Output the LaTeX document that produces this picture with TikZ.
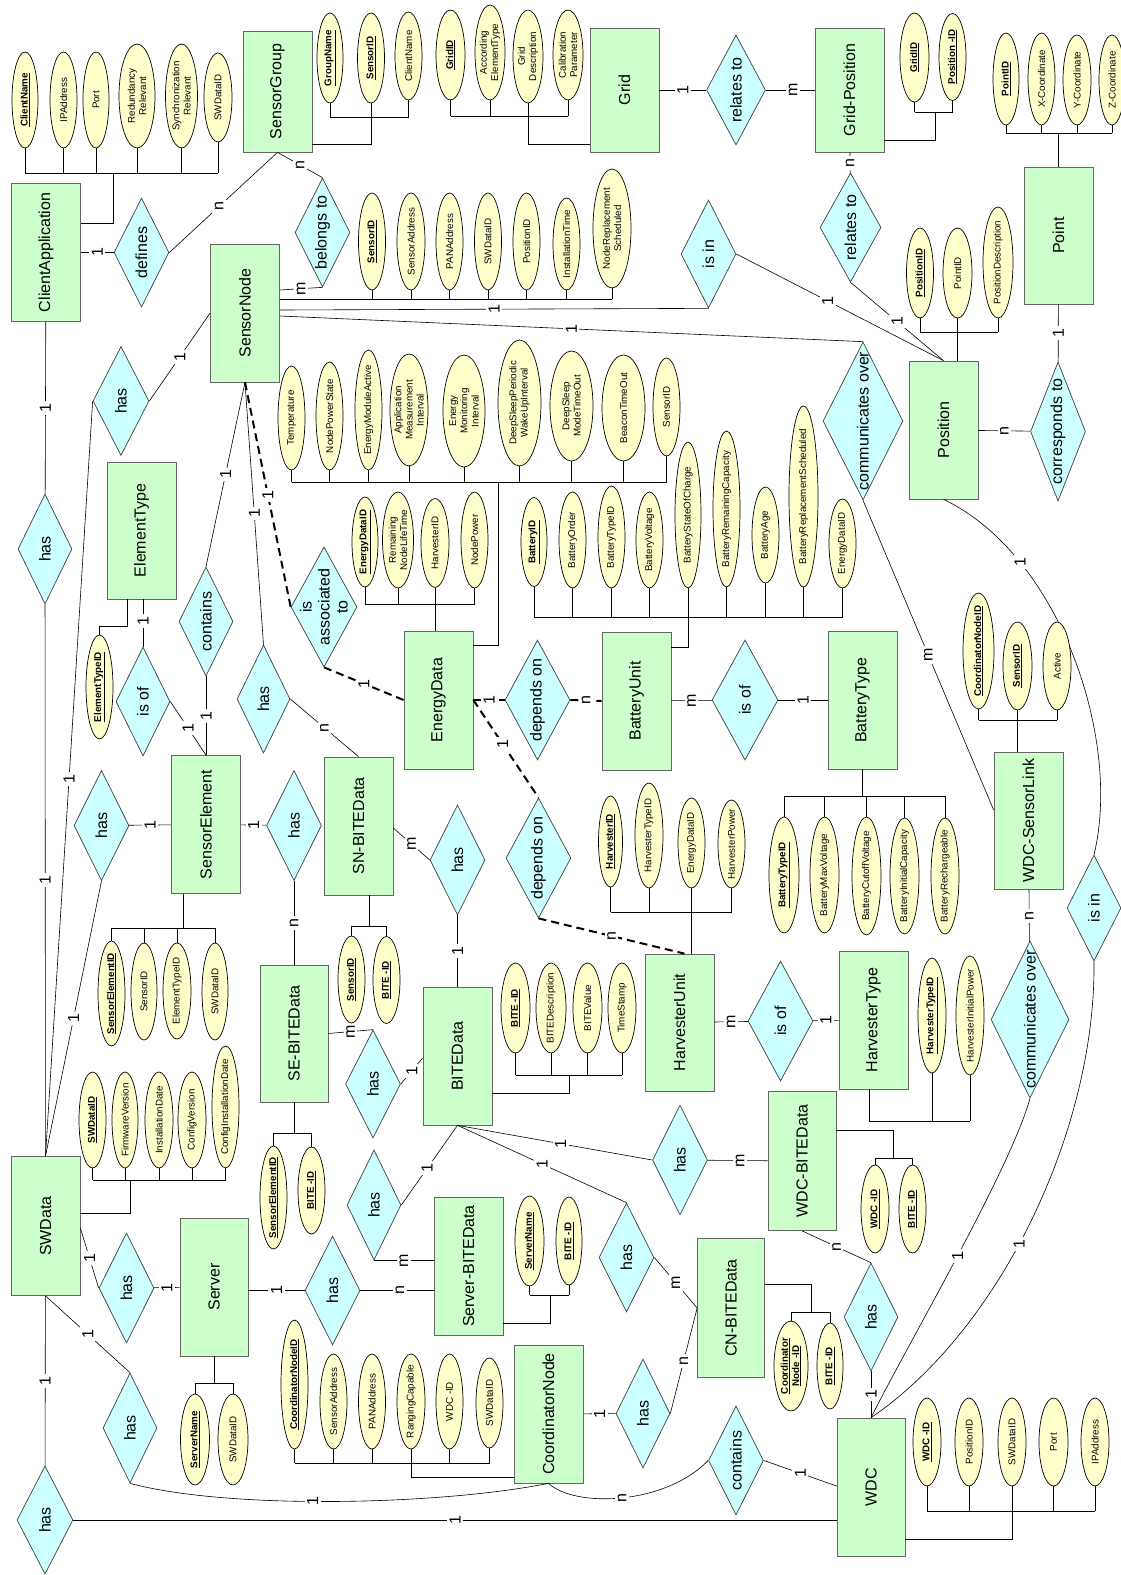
\documentclass[tikz,border=0pt]{standalone}
\usepackage{fontspec}
\setmainfont{Liberation Sans}
\usetikzlibrary{shapes.geometric}
\definecolor{entg}{HTML}{CCFFCC}
\definecolor{relc}{HTML}{CCFFFF}
\definecolor{attc}{HTML}{FFFFCC}
\newcommand\kk[1]{\underline{\textbf{#1}}}
\begin{document}
\begin{tikzpicture}[x=1pt,y=-1pt,
  ent/.style={draw=black!60, line width=0.7pt, fill=entg, rectangle, minimum width=69pt, minimum height=138pt, inner sep=0pt,
     label={[rotate=90,font=\fontsize{16}{19}\selectfont]center:#1}},
  rel/.style={draw=black!75, line width=0.7pt, fill=relc, diamond, minimum width=55pt, minimum height=109pt, inner sep=0pt,
     label={[rotate=90,font=\fontsize{16}{18}\selectfont,align=center]center:#1}},
  att/.style={draw=black, line width=0.7pt, fill=attc, ellipse, minimum width=27pt, minimum height=90pt, inner sep=0pt,
     label={[rotate=90,font=\fontsize{9.8}{11.2}\selectfont,align=center]center:#1}},
  card/.style={fill=white, inner sep=2.5pt, rotate=90, font=\fontsize{16}{16}\selectfont},
  ln/.style={draw=black, line width=0.6pt},
  bus/.style={draw=black, line width=0.7pt},
  dsh/.style={draw=black, line width=2pt, dash pattern=on 8pt off 5pt},
]
\fill[white] (0,0) rectangle (1120,1575);
\useasboundingbox (0,0) rectangle (1120,1575);

% ---------------- entities
\node[ent=ClientApplication] (ca) at (46,252.5) {};
\node[ent=SensorGroup, minimum height=121pt] (sg) at (277.5,91.5) {};
\node[ent=SensorNode] (sn) at (245,313) {};
\node[ent=Grid, minimum height=124pt] (grid) at (624.5,90) {};
\node[ent=Grid-Position, minimum height=124pt] (gp) at (849.5,90) {};
\node[ent=Point, minimum height=137pt] (point) at (1058.5,235.5) {};
\node[ent=Position] (pos) at (943.5,430) {};
\node[ent=ElementType, minimum height=137pt] (et) at (141.5,530.5) {};
\node[ent=EnergyData] (ed) at (438.5,700) {};
\node[ent=BatteryUnit] (bu) at (636.5,701) {};
\node[ent=BatteryType] (bt) at (862.5,700) {};
\node[ent=WDC-SensorLink, minimum height=137pt] (wsl) at (1028.5,820.5) {};
\node[ent=SensorElement] (se) at (206,824.5) {};
\node[ent=SN-BITEData] (snb) at (358.5,826) {};
\node[ent=SE-BITEData, minimum width=68pt, minimum height=137pt] (seb) at (294,1033.5) {};
\node[ent=BITEData] (bite) at (457.5,1056) {};
\node[ent=HarvesterUnit, minimum height=137pt] (hu) at (679.5,1022.5) {};
\node[ent=HarvesterType] (ht) at (873.5,1020) {};
\node[ent=WDC-BITEData, minimum width=68pt, minimum height=139pt] (wdcb) at (802,1161) {};
\node[ent=SWData, minimum height=139pt] (sw) at (45.5,1226) {};
\node[ent=Server, minimum width=68pt] (srv) at (214,1287) {};
\node[ent=Server-BITEData] (sbd) at (468.5,1266) {};
\node[ent=CN-BITEData, minimum width=67pt, minimum height=139pt] (cnb) at (731,1308) {};
\node[ent=CoordinatorNode] (cn) at (548.5,1414) {};
\node[ent=WDC, minimum width=68pt] (wdc) at (871,1487) {};

% ---------------- relationships
\node[rel=defines] (rdef) at (141.5,252.5) {};
\node[rel=belongs to] (rbel) at (322.5,232.5) {};
\node[rel=relates to, minimum width=59pt, minimum height=110pt] (rrel1) at (736,90) {};
\node[rel=relates to, minimum width=61pt] (rrel2) at (850.5,227.5) {};
\node[rel=is in, minimum height=108pt] (risin1) at (708.5,254) {};
\node[rel=corresponds to, minimum height=139pt] (rcor) at (1058,431.5) {};
\node[rel=communicates over, minimum width=80pt, minimum height=158pt] (rcom1) at (863,421) {};
\node[rel=has, minimum width=54pt, minimum height=110pt] (rh1) at (45,549) {};
\node[rel=has, minimum width=56pt] (rh2) at (121,401) {};
\node[rel=is of, minimum width=54pt] (risof1) at (143,701.5) {};
\node[rel=contains, minimum width=54pt] (rcont1) at (206,621.5) {};
\node[rel=has, minimum width=53pt, minimum height=108pt] (rh3) at (263.5,699) {};
\node[rel={is\\associated\\to}, minimum width=66pt, minimum height=120pt] (rass) at (324,607) {};
\node[rel=depends on, minimum width=65pt, minimum height=120pt] (rdep1) at (537.5,700) {};
\node[rel=is of, minimum width=66pt, minimum height=120pt] (risof2) at (745,700) {};
\node[rel=has, minimum height=110pt] (rh4) at (101.5,825.5) {};
\node[rel=has, minimum height=110pt] (rh5) at (294,825.5) {};
\node[rel=has, minimum height=110pt] (rh6) at (457.5,860) {};
\node[rel=depends on, minimum width=65pt, minimum height=120pt] (rdep2) at (538.5,858) {};
\node[rel=is of, minimum width=65pt, minimum height=120pt] (risof3) at (780.5,1021) {};
\node[rel=is in, minimum width=54pt, minimum height=106pt] (risin2) at (1094,908) {};
\node[rel=communicates over, minimum width=78pt, minimum height=157pt] (rcom2) at (1030,1019.5) {};
\node[rel=has, minimum height=108pt] (rh7) at (373,1084) {};
\node[rel=has, minimum height=110pt] (rh8) at (680,1160) {};
\node[rel=has, minimum width=54pt, minimum height=110pt] (rh9) at (374,1205) {};
\node[rel=has] (rh10) at (626.5,1257.5) {};
\node[rel=has] (rh11) at (332.5,1290.5) {};
\node[rel=has, minimum height=110pt] (rh12) at (126.5,1288) {};
\node[rel=has, minimum width=54pt] (rh13) at (643,1413.5) {};
\node[rel=has, minimum width=54pt, minimum height=108pt] (rh14) at (871,1317) {};
\node[rel=has, minimum width=54pt, minimum height=110pt] (rh15) at (130,1428) {};
\node[rel=contains] (rcont2) at (736,1460.5) {};
\node[rel=has, minimum width=56pt, minimum height=108pt] (rh16) at (45,1520) {};

% ---------------- relationship connectors
\draw[ln] (ca) -- node[card]{1} (rdef);
\draw[ln] (rdef.east) -- node[card,pos=0.46]{n} (sg.south);
\draw[ln] (sg.south) -- node[card]{n} (rbel.north);
\draw[ln] (rbel.south) -- node[card]{m} (sn.east |- 0,290);
\draw[ln] (sn.east |- 0,310) -- node[card]{1} (risin1.south);
\draw[ln] (risin1.east) -- node[card,pos=0.44]{1} (pos.north);
\draw[ln] (sn.east |- 0,316) -- node[card]{1} (rcom1.north);
\draw[ln] (rcom1.south) -- node[card]{m} (wsl.west |- 0,810);
\draw[ln] (grid) -- node[card]{1} (rrel1);
\draw[ln] (rrel1) -- node[card,pos=0.56]{m} (gp);
\draw[ln] (gp) -- node[card]{n} (rrel2);
\draw[ln] (rrel2.south) -- node[card]{1} (pos.north);
\draw[ln] (pos) -- node[card]{n} (rcor);
\draw[ln] (rcor) -- node[card]{1} (point);
\draw[ln] (ca) -- node[card]{1} (rh1);
\draw[ln] (rh1) -- node[card]{1} (sw);
\draw[ln] (sn.west) -- node[card]{1} (rh2.east);
\draw[ln] (rh2.west) -- node[card]{1} (sw.north);
\draw[ln] (risof1.north |- et.south) -- node[card,pos=0.45]{1} (risof1.north);
\draw[ln] (risof1.east) -- node[card]{1} (se.north);
\draw[ln] (sn.south) -- node[card]{1} (rcont1.north);
\draw[ln] (rcont1) -- node[card]{1} (se);
\draw[ln] (sn.south) -- node[card]{1} (rh3.north);
\draw[ln] (rh3.east) -- node[card]{n} (snb.north);
\draw[dsh] (sn.south) -- node[card]{1} (rass.west);
\draw[dsh] (rass.south) -- node[card]{1} (ed.west);
\draw[dsh] (ed.east) -- node[card]{1} (rdep1.west);
\draw[dsh] (rdep1.east) -- node[card]{n} (bu.west);
\draw[ln] (bu) -- node[card]{m} (risof2);
\draw[ln] (risof2) -- node[card]{1} (bt);
\draw[dsh] (ed.east) -- node[card,pos=0.45]{1} (rdep2.north);
\draw[dsh] (rdep2.south) -- node[card]{n} ([xshift=5pt]hu.north);
\draw[ln] (hu) -- node[card]{m} (risof3);
\draw[ln] (risof3) -- node[card]{1} (ht);
\draw[ln] (pos.south) .. controls (1060,555) and (1122,740) .. node[card,pos=0.25]{1} (risin2.north);
\draw[ln] (risin2.south) .. controls (1096,1130) and (1000,1330) .. node[card,pos=0.55]{1} (wdc.north);
\draw[ln] (rcom2.south) .. controls (1010,1170) and (910,1340) .. node[card]{1} (wdc.north);
\draw[ln] (wsl) -- node[card]{n} (rcom2);
\draw[ln] (se) -- node[card]{1} (rh4);
\draw[ln] (rh4.south) -- node[card]{1} (sw.north);
\draw[ln] (se) -- node[card]{1} (rh5);
\draw[ln] (rh5) -- node[card]{n} (seb);
\draw[ln] (snb.east |- 0,828) -- node[card]{m} (rh6.west);
\draw[ln] (rh6) -- node[card]{1} (bite);
\draw[ln] (seb.east) -- node[card]{m} (rh7.north);
\draw[ln] (rh7.east) -- node[card]{1} (bite.west |- 0,1058);
\draw[ln] (bite.south) -- node[card,pos=0.53]{1} (rh8.west);
\draw[ln] (bite.south) -- node[card]{1} (rh10.north);
\draw[ln] (bite.south) -- node[card,pos=0.54]{1} (rh9.east);
\draw[ln] (rh8) -- node[card,pos=0.54]{m} (wdcb);
\draw[ln] (wdcb.south) -- node[card]{n} (rh14.north);
\draw[ln] (rh14) -- node[card]{1} (wdc);
\draw[ln] (rh10.east) -- node[card]{m} (cnb.west);
\draw[ln] (rh9.south) -- node[card]{m} (sbd.west |- rh9.south);
\draw[ln] (srv.east |- rh11) -- node[card]{1} (rh11.west);
\draw[ln] (rh11.east) -- node[card,pos=0.54]{n} (sbd.west |- rh11);
\draw[ln] (sw.east |- 0,1228) -- node[card]{1} (rh12.west);
\draw[ln] (rh12) -- node[card]{1} (srv);
\draw[ln] (sw.south) -- node[card]{1} (rh15.north);
\draw[ln] (rh15.south) .. controls (230,1510) and (440,1505) .. node[card,pos=0.45]{1} (cn.south);
\draw[ln] (sw) -- node[card]{1} (rh16);
\draw[ln] (rh16.east) -- node[card]{1} (wdc.west |- rh16);
\draw[ln] (cn) -- node[card]{1} (rh13);
\draw[ln] (rh13.east) -- node[card]{n} (cnb.west);
\draw[ln] (rcont2.east) -- node[card]{1} (wdc.west |- 0,1486);
\draw[ln] (cn.south) .. controls (575,1508) and (665,1505) .. node[card]{n} (rcont2.west);

% ---------------- attributes: ClientApplication
\node[att=\kk{ClientName}, minimum width=26pt, minimum height=96pt] (aca1) at (25,100) {};
\node[att=IPAddress, minimum height=96pt] (aca2) at (63.5,100) {};
\node[att=Port, minimum width=26pt, minimum height=96pt] (aca3) at (96,100) {};
\node[att={Redundancy\\Relevant}, minimum width=36pt, minimum height=104pt] (aca4) at (137,96) {};
\node[att={Synchronization\\Relevant}, minimum width=32pt, minimum height=104pt] (aca5) at (181.5,96) {};
\node[att=SWDataID, minimum width=28pt, minimum height=89pt] (aca6) at (218,97.5) {};
\foreach \n in {aca1,aca2,aca3,aca4,aca5,aca6} \draw[bus] (\n.south) -- (\n.south |- 0,173);
\draw[bus] (aca1.south |- 0,173) -- (aca6.south |- 0,173);
\draw[bus] (113,173) -- (113,223) -- (ca.east |- 0,223);

% SensorGroup
\node[att=\kk{GroupName}, minimum width=26pt] (asg1) at (330,58) {};
\node[att=\kk{SensorID}] (asg2) at (371,58) {};
\node[att=ClientName, minimum height=88pt] (asg3) at (408.5,56) {};
\foreach \n in {asg1,asg3} \draw[bus] (\n.south) -- (\n.south |- 0,117);
\draw[bus] (asg1.south |- 0,117) -- (asg3.south |- 0,117);
\draw[bus] (asg2.south) -- (asg2.south |- 0,144) -- (sg.east |- 0,144);

% Grid
\node[att=\kk{GridID}, minimum width=29pt] (agr1) at (450.5,55) {};
\node[att={According\\ElementType}, minimum width=30pt, minimum height=95pt] (agr2) at (490,52.5) {};
\node[att={Grid\\Description}, minimum width=30pt, minimum height=93pt] (agr3) at (528,56.5) {};
\node[att={Calibration\\Parameter}, minimum width=30pt] (agr4) at (568,55) {};
\foreach \n in {agr1,agr2,agr4} \draw[bus] (\n.south) -- (\n.south |- 0,116);
\draw[bus] (agr1.south |- 0,116) -- (agr4.south |- 0,116);
\draw[bus] (agr3.south) -- (agr3.south |- 0,144) -- (grid.west |- 0,144);

% Grid-Position
\node[att=\kk{GridID}, minimum width=29pt, minimum height=89pt] (agp1) at (914.5,57.5) {};
\node[att=\kk{Position -ID}, minimum height=87pt] (agp2) at (952.5,57) {};
\foreach \n in {agp1,agp2} \draw[bus] (\n.south) -- (\n.south |- 0,112);
\draw[bus] (agp1.south |- 0,112) -- (agp2.south |- 0,112);
\draw[bus] (935,112) -- (935,140) -- (gp.east |- 0,140);

% Point
\node[att=\kk{PointID}, minimum width=26pt, minimum height=92pt] (apt1) at (1006,79) {};
\node[att=X-Coordinate, minimum height=92pt] (apt2) at (1041.5,79) {};
\node[att=Y-Coordinate, minimum width=28pt] (apt3) at (1077,80) {};
\node[att=Z-Coordinate, minimum width=26pt] (apt4) at (1112,80) {};
\foreach \n in {apt1,apt2,apt3,apt4} \draw[bus] (\n.south) -- (\n.south |- 0,133);
\draw[bus] (apt1.south |- 0,133) -- (apt4.south |- 0,133);
\draw[bus] (point.north |- 0,133) -- (point.north);

% Position
\node[att=\kk{PositionID}] (apo1) at (920,273) {};
\node[att=PointID, minimum width=29pt] (apo2) at (957.5,273) {};
\node[att=PositionDescription, minimum width=30pt, minimum height=111pt] (apo3) at (998,262.5) {};
\foreach \n in {apo1,apo3} \draw[bus] (\n.south) -- (\n.south |- 0,332);
\draw[bus] (apo1.south |- 0,332) -- (apo3.south |- 0,332);
\draw[bus, line width=1.4pt] (apo2.south) -- (apo2.south |- pos.north);

% SensorNode
\node[att=\kk{SensorID}, minimum height=97pt] (asn1) at (372,241.5) {};
\node[att=SensorAddress, minimum width=28pt, minimum height=97pt] (asn2) at (411,241.5) {};
\node[att=PANAddress, minimum height=97pt] (asn3) at (449.5,241.5) {};
\node[att=SWDataID, minimum height=97pt] (asn4) at (488,241.5) {};
\node[att=PositionID, minimum height=97pt] (asn5) at (526.5,241.5) {};
\node[att=InstallationTime, minimum height=92pt] (asn6) at (566.5,244) {};
\node[att={NodeReplacement\\Scheduled}, minimum width=38pt, minimum height=119pt] (asn7) at (612,228.5) {};
\foreach \n in {asn1,asn2,asn3,asn4,asn5,asn6,asn7} \draw[bus] (\n.south) -- (\n.south |- 0,299);
\draw[bus] (sn.east |- 0,299) -- (asn7.south |- 0,299);

% EnergyData (row 1)
\node[att=Temperature, minimum height=104pt] (aed1) at (291.5,418) {};
\node[att=NodePowerState, minimum height=108pt] (aed2) at (329.5,416) {};
\node[att=EnergyModuleActive, minimum height=120pt] (aed3) at (368.5,410) {};
\node[att={Application\\Measurement\\Interval}, minimum width=38pt, minimum height=112pt] (aed4) at (409,410) {};
\node[att={Energy\\Monitoring\\Interval}, minimum width=42pt, minimum height=112pt] (aed5) at (464,411) {};
\node[att={DeepSleepPeriodic\\WakeUpInterval}, minimum width=43pt, minimum height=126pt] (aed6) at (519.5,403) {};
\node[att={DeepSleep\\ModeTimeOut}, minimum width=43pt, minimum height=110pt] (aed7) at (571.5,406) {};
\node[att=BeaconTimeOut, minimum width=43pt, minimum height=106pt] (aed8) at (623.5,408) {};
\node[att=SensorID, minimum height=98pt] (aed9) at (666.5,407) {};
\foreach \n in {aed1,aed2,aed3,aed4,aed5,aed6,aed7,aed8,aed9} \draw[bus] (\n.south) -- (\n.south |- 0,482);
\draw[bus] (aed1.south |- 0,482) -- (aed9.south |- 0,482);
\draw[bus] (498,482) -- (498,645) -- (ed.east |- 0,645);

% EnergyData (row 2)
\node[att=\kk{EnergyDataID}, minimum width=26pt] (aee1) at (365,542) {};
\node[att={Remaining\\NodeLifeTime}, minimum width=31pt, minimum height=96pt] (aee2) at (398,540) {};
\node[att=HarvesterID, minimum width=28pt, minimum height=89pt] (aee3) at (435,543) {};
\node[att=NodePower, minimum height=96pt] (aee4) at (474.5,540) {};
\foreach \n in {aee1,aee2,aee4} \draw[bus] (\n.south) -- (\n.south |- 0,604);
\draw[bus] (aee1.south |- 0,604) -- (aee4.south |- 0,604);
\draw[bus] (aee3.south) -- (aee3.south |- ed.north);

% BatteryUnit
\node[att=\kk{BatteryID}, minimum width=26pt, minimum height=89pt] (abu1) at (534,542) {};
\node[att=BatteryOrder, minimum height=96pt] (abu2) at (572.5,540) {};
\node[att=BatteryTypeID, minimum height=102pt] (abu3) at (611.5,537) {};
\node[att=BatteryVoltage, minimum height=96pt] (abu4) at (649.5,540) {};
\node[att=BatteryStateOfCharge, minimum width=26pt, minimum height=146pt] (abu5) at (688,515) {};
\node[att=BatteryRemainingCapacity, minimum height=156pt] (abu6) at (726.5,509) {};
\node[att=BatteryAge, minimum height=96pt] (abu7) at (765.5,535) {};
\node[att=BatteryReplacementScheduled, minimum width=29pt, minimum height=181pt] (abu8) at (803.5,496.5) {};
\node[att=EnergyDataID, minimum height=89pt] (abu9) at (842.5,543.5) {};
\foreach \n in {abu1,abu2,abu3,abu4,abu6,abu7,abu8,abu9} \draw[bus] (\n.south) -- (\n.south |- 0,617);
\draw[bus] (abu1.south |- 0,617) -- (abu9.south |- 0,617);
\draw[bus] (abu5.south) -- (abu5.south |- 0,647) -- (bu.east |- 0,647);

% BatteryType
\node[att=\kk{BatteryTypeID}, minimum width=30pt, minimum height=116pt] (abt1) at (784,875) {};
\node[att=BatteryMaxVoltage, minimum width=29pt, minimum height=116pt] (abt2) at (824.5,875) {};
\node[att=BatteryCutoffVoltage, minimum width=29pt, minimum height=118pt] (abt3) at (866.5,876) {};
\node[att=BatteryInitialCapacity, minimum width=29pt, minimum height=116pt] (abt4) at (904.5,876) {};
\node[att=BatteryRechargeable, minimum width=28pt, minimum height=116pt] (abt5) at (945,876) {};
\foreach \n in {abt1,abt2,abt3,abt4,abt5} \draw[bus] (\n.north) -- (\n.north |- 0,796);
\draw[bus] (abt1.north |- 0,796) -- (abt5.north |- 0,796);
\draw[bus] (bt.south) -- (bt.south |- 0,796);

% WDC-SensorLink
\node[att=\kk{CoordinatorNodeID}, minimum width=31pt, minimum height=116pt] (awl1) at (978.5,651) {};
\node[att=\kk{SensorID}, minimum width=29pt, minimum height=88pt] (awl2) at (1017.5,666) {};
\node[att=Active, minimum width=28pt, minimum height=88pt] (awl3) at (1057,666) {};
\foreach \n in {awl1,awl3} \draw[bus] (\n.south) -- (\n.south |- 0,720);
\draw[bus] (awl1.south |- 0,720) -- (awl3.south |- 0,720);
\draw[bus] (awl2.south) -- (awl2.south |- wsl.north);

% HarvesterUnit
\node[att=\kk{HarvesterID}, minimum width=24pt, minimum height=91pt] (ahu1) at (610.5,841.5) {};
\node[att=HarvesterTypeID, minimum width=28pt, minimum height=105pt] (ahu2) at (649,835.5) {};
\node[att=EnergyDataID] (ahu3) at (691.5,843) {};
\node[att=HarvesterPower, minimum height=88pt] (ahu4) at (731.5,844) {};
\foreach \n in {ahu1,ahu2,ahu4} \draw[bus] (\n.south) -- (\n.south |- 0,912);
\draw[bus] (ahu1.south |- 0,912) -- (ahu4.south |- 0,912);
\draw[bus, line width=1.2pt] (ahu3.south) -- (ahu3.south |- hu.north);

% HarvesterType
\node[att=\kk{HarvesterTypeID}, minimum width=28pt, minimum height=115pt] (aht1) at (932,1015.5) {};
\node[att=HarvesterInitialPower, minimum width=28pt, minimum height=119pt] (aht2) at (970,1015.5) {};
\foreach \n in {aht1,aht2} \draw[bus] (\n.south) -- (\n.south |- 0,1121);
\draw[bus] (869,1089) -- (869,1121) -- (aht2.south |- 0,1121);

% SensorElement
\node[att=\kk{SensorElementID}, minimum height=105pt] (ase1) at (111.5,993.5) {};
\node[att=SensorID, minimum width=26pt, minimum height=97pt] (ase2) at (144,991.5) {};
\node[att=ElementTypeID, minimum width=28pt, minimum height=96pt] (ase3) at (177,991) {};
\node[att=SWDataID, minimum width=26pt, minimum height=97pt] (ase4) at (215,991.5) {};
\foreach \n in {ase1,ase2,ase3,ase4} \draw[bus] (\n.north) -- (\n.north |- 0,928);
\draw[bus] (ase1.north |- 0,928) -- (ase4.north |- 0,928);
\draw[bus] (183,893.5) -- (183,928);

% ElementType
\node[att=\kk{ElementTypeID}, minimum height=104pt] (aet1) at (99.5,687) {};
\draw[bus] (127,599) -- (127,626) -- (aet1.north |- 0,626) -- (aet1.north);

% SN-BITEData
\node[att=\kk{SensorID}, minimum height=87pt] (asb1) at (351.5,979.5) {};
\node[att=\kk{BITE -ID}, minimum height=87pt] (asb2) at (386.5,980) {};
\foreach \n in {asb1,asb2} \draw[bus] (\n.north) -- (\n.north |- 0,926);
\draw[bus] (asb1.north |- 0,926) -- (asb2.north |- 0,926);
\draw[bus] (369,895) -- (369,926);

% SE-BITEData
\node[att=\kk{SensorElementID}, minimum height=103pt] (aeb1) at (273.5,1197.5) {};
\node[att=\kk{BITE -ID}, minimum height=87pt] (aeb2) at (311.5,1190.5) {};
\foreach \n in {aeb1,aeb2} \draw[bus] (\n.north) -- (\n.north |- 0,1133);
\draw[bus] (aeb1.north |- 0,1133) -- (aeb2.north |- 0,1133);
\draw[bus] (seb.south) -- (seb.south |- 0,1133);

% BITEData
\node[att=\kk{BITE -ID}, minimum width=29pt] (abi1) at (515.5,1008) {};
\node[att=BITEDescription, minimum width=30pt] (abi2) at (551,1008) {};
\node[att=BITEValue, minimum width=29pt] (abi3) at (587.5,1008) {};
\node[att=TimeStamp, minimum width=28pt] (abi4) at (622,1008) {};
\foreach \n in {abi1,abi2,abi3,abi4} \draw[bus] (\n.south) -- (\n.south |- 0,1075);
\draw[bus] (abi1.south |- 0,1075) -- (abi4.south |- 0,1075);
\draw[bus] (569,1075) -- (569,1093) -- (bite.east |- 0,1093);

% WDC-BITEData
\node[att=\kk{WDC -ID}, minimum width=28pt, minimum height=88pt] (awb1) at (875,1209) {};
\node[att=\kk{BITE -ID}, minimum height=88pt] (awb2) at (912.5,1209) {};
\foreach \n in {awb1,awb2} \draw[bus] (\n.north) -- (\n.north |- 0,1158);
\draw[bus] (awb1.north |- 0,1158) -- (awb2.north |- 0,1158);
\draw[bus] (wdcb.east |- 0,1130) -- (893,1130) -- (893,1158);

% CN-BITEData
\node[att={\kk{Coordinator}\\\kk{Node -ID}}, minimum width=34pt] (acb1) at (791,1366) {};
\node[att=\kk{BITE -ID}, minimum width=26pt, minimum height=86pt] (acb2) at (830,1366) {};
\foreach \n in {acb1,acb2} \draw[bus] (\n.north) -- (\n.north |- 0,1312);
\draw[bus] (acb1.north |- 0,1312) -- (acb2.north |- 0,1312);
\draw[bus] (cnb.east |- 0,1284) -- (811,1284) -- (811,1312);

% Server-BITEData
\node[att=\kk{ServerName}, minimum width=29pt] (asv1) at (529.5,1241) {};
\node[att=\kk{BITE -ID}, minimum width=26pt, minimum height=88pt] (asv2) at (569,1241) {};
\foreach \n in {asv1,asv2} \draw[bus] (\n.south) -- (\n.south |- 0,1295);
\draw[bus] (asv1.south |- 0,1295) -- (asv2.south |- 0,1295);
\draw[bus] (sbd.east |- 0,1323) -- (550,1323) -- (550,1295);

% Server
\node[att=\kk{ServerName}, minimum width=29pt, minimum height=91pt] (asr1) at (195,1439.5) {};
\node[att=SWDataID, minimum width=30pt, minimum height=91pt] (asr2) at (233,1439.5) {};
\foreach \n in {asr1,asr2} \draw[bus] (\n.north) -- (\n.north |- 0,1383);
\draw[bus] (asr1.north |- 0,1383) -- (asr2.north |- 0,1383);
\draw[bus] (srv.south) -- (srv.south |- 0,1383);

% CoordinatorNode
\node[att=\kk{CoordinatorNodeID}, minimum height=129pt] (acn1) at (294.5,1384.5) {};
\node[att=SensorAddress, minimum height=95pt] (acn2) at (333.5,1401.5) {};
\node[att=PANAddress, minimum height=95pt] (acn3) at (372,1401.5) {};
\node[att=RangingCapable, minimum width=28pt, minimum height=95pt] (acn4) at (411,1401.5) {};
\node[att=WDC -ID, minimum height=95pt] (acn5) at (449.5,1401.5) {};
\node[att=SWDataID] (acn6) at (489.5,1403) {};
\foreach \n in {acn1,acn2,acn3,acn5,acn6} \draw[bus] (\n.south) -- (\n.south |- 0,1463);
\draw[bus] (acn1.south |- 0,1463) -- (acn6.south |- 0,1463);
\draw[bus] (acn4.south) -- (acn4.south |- 0,1477) -- (cn.west |- 0,1477);

% WDC
\node[att=\kk{WDC -ID}, minimum width=28pt, minimum height=88pt] (awd1) at (927,1442) {};
\node[att=PositionID, minimum width=28pt, minimum height=88pt] (awd2) at (969,1442) {};
\node[att=SWDataID, minimum width=28pt, minimum height=88pt] (awd3) at (1012,1442) {};
\node[att=Port, minimum width=29pt, minimum height=88pt] (awd4) at (1053.5,1442) {};
\node[att=IPAddress, minimum width=28pt, minimum height=88pt] (awd5) at (1095,1442) {};
\foreach \n in {awd1,awd2,awd4,awd5} \draw[bus] (\n.south) -- (\n.south |- 0,1511);
\draw[bus] (awd1.south |- 0,1511) -- (awd5.south |- 0,1511);
\draw[bus] (awd3.south) -- (awd3.south |- 0,1539) -- (wdc.east |- 0,1539);

% SWData
\node[att=\kk{SWDataID}, minimum height=96pt] (asw1) at (92.5,1120) {};
\node[att=FirmwareVersion, minimum width=26pt, minimum height=96pt] (asw2) at (125,1120) {};
\node[att=InstallationDate, minimum width=28pt, minimum height=96pt] (asw3) at (159,1120) {};
\node[att=ConfigVersion, minimum width=28pt, minimum height=96pt] (asw4) at (192,1120) {};
\node[att=ConfigInstallationDate, minimum height=122pt] (asw5) at (225.5,1107) {};
\foreach \n in {asw1,asw2,asw3,asw4,asw5} \draw[bus] (\n.south) -- (\n.south |- 0,1180);
\draw[bus] (asw1.south |- 0,1180) -- (asw5.south |- 0,1180);
\draw[bus] (130,1180) -- (130,1213) -- (sw.east |- 0,1213);
\end{tikzpicture}
\end{document}
